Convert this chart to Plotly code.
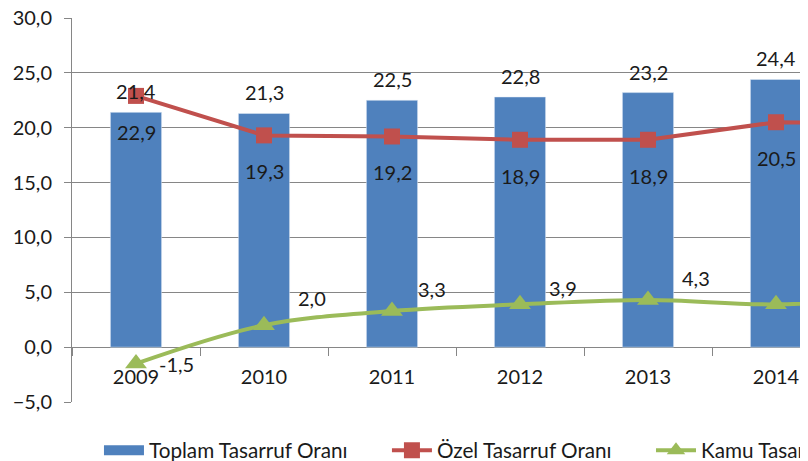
import plotly.graph_objects as go

years = ['2009', '2010', '2011', '2012', '2013', '2014', '2015']
toplam = [21.4, 21.3, 22.5, 22.8, 23.2, 24.4, None]
ozel = [22.9, 19.3, 19.2, 18.9, 18.9, 20.5, 20.4]
kamu = [-1.5, 2.0, 3.3, 3.9, 4.3, 3.9, 4.6]
names = ['Toplam Tasarruf Oranı', 'Özel Tasarruf Oranı', 'Kamu Tasarruf Oranı']
y_ticks = [-5, 0, 5, 10, 15, 20, 25, 30]

BLUE, RED, GREEN = '#4F81BD', '#C0504D', '#9BBB59'
GRID = '#868686'
TXT = '#1a1a1a'
FONT = 'Lato'
FS = 20

# label offsets for the green series (px), Excel labels were nudged by hand
kamu_dx = [40, 48, 40, 43, 48, 44, 44]
kamu_dy = [0, 27, 22, 16, 22, 20, 20]


def fmt(v):
    return f'{v:.1f}'.replace('.', ',')


fig = go.Figure()
fig.add_trace(go.Bar(x=years, y=toplam, marker_color=BLUE, width=0.4,
                     showlegend=False, name=names[0]))
fig.add_trace(go.Scatter(x=years, y=ozel, mode='lines+markers', name=names[1],
                         line=dict(color=RED, width=4),
                         marker=dict(symbol='square', size=16, color=RED),
                         legend='legend2'))
fig.add_trace(go.Scatter(x=years, y=kamu, mode='lines+markers', name=names[2],
                         line=dict(color=GREEN, width=4, shape='spline'),
                         marker=dict(symbol='triangle-up', size=19, color=GREEN),
                         legend='legend3'))
# legend entry for the bars (wide patch like Excel)
fig.add_trace(go.Scatter(x=[None], y=[None], mode='lines', name=names[0],
                         line=dict(color=BLUE, width=13), legend='legend'))

# data labels (category index used as x position)
for i, v in enumerate(toplam):
    if v is not None:
        fig.add_annotation(x=i, y=v, text=fmt(v), showarrow=False, yshift=21)
for i, v in enumerate(ozel):
    fig.add_annotation(x=i, y=v, text=fmt(v), showarrow=False, yshift=-36)
for i, (v, dx, dy) in enumerate(zip(kamu, kamu_dx, kamu_dy)):
    fig.add_annotation(x=i, y=v, text=fmt(v), showarrow=False, xshift=dx, yshift=dy)
fig.update_annotations(font=dict(family=FONT, size=FS, color=TXT))

leg = dict(orientation='h', xanchor='left', yanchor='middle', y=-0.126,
           font=dict(family=FONT, size=20.7, color=TXT), itemwidth=40,
           bgcolor='rgba(0,0,0,0)')
fig.update_layout(
    width=990, height=453,
    margin=dict(l=64, r=30, t=10, b=59, autoexpand=False),
    plot_bgcolor='white', paper_bgcolor='white',
    separators=',.',
    font=dict(family=FONT, size=FS, color=TXT),
    legend=dict(leg, x=0.0301),
    legend2=dict(leg, x=0.3515),
    legend3=dict(leg, x=0.6462),
    xaxis=dict(type='category', range=[-0.5, 6.5], anchor='free', position=1 / 7,
               showline=True, linecolor=GRID, linewidth=1, ticks='outside',
               tickson='boundaries', ticklen=8, tickcolor=GRID, showgrid=False,
               ticklabelstandoff=12, layer='below traces',
               tickfont=dict(family=FONT, size=FS, color=TXT)),
    yaxis=dict(range=[-5, 30], tickvals=y_ticks, tickformat='.1f',
               showgrid=True, gridcolor=GRID, gridwidth=1, zeroline=False,
               showline=True, linecolor=GRID, ticks='outside', ticklen=7,
               tickcolor=GRID, ticklabelstandoff=8, ticklabeloverflow='allow',
               tickfont=dict(family=FONT, size=FS, color=TXT)),
)

fig.write_html('out.html')
